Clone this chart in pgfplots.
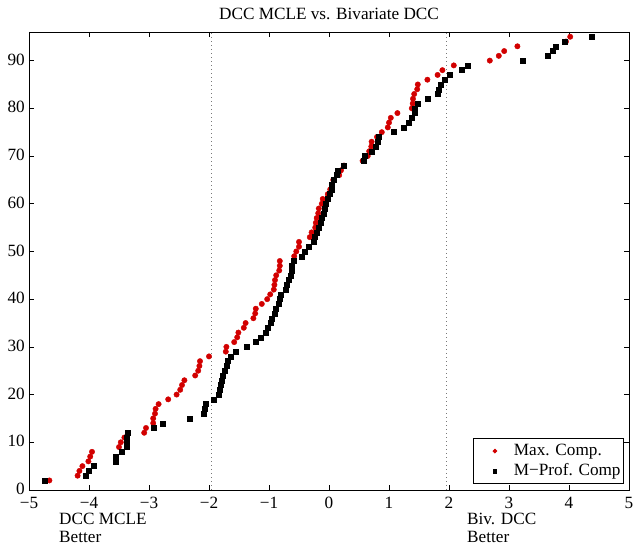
\documentclass[border=0pt]{standalone}
\usepackage{pgfplots}
\pgfplotsset{compat=1.18}
\usepackage{fontspec}
\setmainfont{Liberation Serif}
\definecolor{mred}{RGB}{210,0,0}
\definecolor{dotgray}{RGB}{120,120,120}
\newcommand{\chartfont}{\fontsize{17.2bp}{20bp}\selectfont}

\begin{document}
\chartfont
\begin{tikzpicture}
\begin{axis}[name=ax, scale only axis, width=600bp, height=458bp,
  xmin=-5, xmax=5, ymin=0, ymax=96,
  xtick={-5,-4,-3,-2,-1,0,1,2,3,4,5},
  xticklabels={−5,−4,−3,−2,−1,0,1,2,3,4,5},
  ytick={0,10,20,30,40,50,60,70,80,90},
  /pgf/number format/assume math mode=true,
  tick align=inside, major tick length=5bp,
  tick style={black, line width=0.6bp},
  axis line style={line width=0.8bp},
  ticklabel style={font=\chartfont},
  xticklabel style={inner sep=0pt, yshift=-7bp},
  yticklabel style={inner sep=0pt, xshift=-4bp, yshift=1bp},
  clip=false,
  legend cell align=left,
  legend image code/.code={%
    \path[draw=none, fill=none] (-21bp,0bp) rectangle (17bp,0.5bp);
    \draw[#1, mark size=1.9bp] plot[only marks] coordinates {(0bp,0bp)};},
  legend style={at={(rel axis cs:1,0)}, anchor=south east,
    xshift=-5bp, yshift=6bp, draw=black, line width=0.8bp,
    inner xsep=1bp, inner ysep=2.5bp, font=\chartfont,
    nodes={inner xsep=2bp, inner ysep=2bp, text height=12bp, text depth=4bp}},
]
\draw[dotgray, line width=0.7bp, dash pattern=on 1bp off 3bp] (axis cs:-1.96,0) -- (axis cs:-1.96,96);
\draw[dotgray, line width=0.7bp, dash pattern=on 1bp off 3bp] (axis cs:1.96,0) -- (axis cs:1.96,96);

\addplot[only marks, mark=*, mark size=2.7bp, color=mred, mark options={draw=mred, fill=mred}] coordinates {
(-4.66,2)(-4.19,3)(-4.16,4)(-4.11,5)(-4.01,6)(-3.98,7)(-3.95,8)(-3.50,9)(-3.47,10)
(-3.41,11)(-3.08,12)(-3.05,13)(-2.93,14)(-2.93,15)(-2.90,16)(-2.89,17)(-2.84,18)
(-2.68,19)(-2.54,20)(-2.48,21)(-2.45,22)(-2.41,23)(-2.23,24)(-2.18,25)(-2.16,26)
(-2.15,27)(-2.00,28)(-1.72,29)(-1.71,30)(-1.58,31)(-1.53,32)(-1.51,33)(-1.42,34)
(-1.39,35)(-1.26,36)(-1.23,37)(-1.22,38)(-1.12,39)(-1.03,40)(-0.98,41)(-0.92,42)
(-0.91,43)(-0.90,44)(-0.88,45)(-0.83,46)(-0.82,47)(-0.82,48)(-0.58,49)(-0.545,50)
(-0.50,51)(-0.50,52)(-0.32,53)(-0.29,54)(-0.23,55)(-0.22,56)(-0.205,57)(-0.18,58)
(-0.17,59)(-0.12,60)(-0.105,61)(-0.02,62)(0.02,63)(0.05,64)(0.07,65)(0.17,66)
(0.20,67)(0.25,68)(0.56,69)(0.645,70)(0.67,71)(0.705,72)(0.71,73)(0.80,74)(0.88,75)
(0.98,76)(1.00,77)(1.03,78)(1.14,79)(1.38,80)(1.395,81)(1.40,82)(1.42,83)(1.47,84)
(1.48,85)(1.64,86)(1.81,87)(1.89,88)(2.08,89)(2.68,90)(2.83,91)(2.92,92)(3.14,93)
(3.95,94)(4.02,95)
};
\addlegendentry{Max. Comp.}

\addplot[only marks, mark=square*, mark size=2.5bp, color=black, mark options={draw=black, fill=black}] coordinates {
(-4.73,2)(-4.06,3)(-4.00,4)(-3.92,5)(-3.56,6)(-3.56,7)(-3.45,8)(-3.38,9)(-3.38,10)
(-3.37,11)(-3.355,12)(-2.92,13)(-2.78,14)(-2.33,15)(-2.09,16)(-2.07,17)(-2.06,18)
(-1.93,19)(-1.845,20)(-1.82,21)(-1.80,22)(-1.79,23)(-1.77,24)(-1.745,25)(-1.71,26)
(-1.69,27)(-1.64,28)(-1.55,29)(-1.37,30)(-1.22,31)(-1.145,32)(-1.055,33)(-1.03,34)
(-0.98,35)(-0.96,36)(-0.91,37)(-0.89,38)(-0.845,39)(-0.82,40)(-0.81,41)(-0.72,42)
(-0.70,43)(-0.68,44)(-0.645,45)(-0.63,46)(-0.62,47)(-0.59,48)(-0.455,49)(-0.41,50)
(-0.345,51)(-0.26,52)(-0.245,53)(-0.205,54)(-0.18,55)(-0.14,56)(-0.13,57)(-0.095,58)
(-0.08,59)(-0.055,60)(-0.03,61)(0.005,62)(0.04,63)(0.05,64)(0.08,65)(0.12,66)
(0.15,67)(0.25,68)(0.57,69)(0.60,70)(0.705,71)(0.78,72)(0.805,73)(0.82,74)(1.08,75)
(1.245,76)(1.32,77)(1.37,78)(1.43,79)(1.43,80)(1.48,81)(1.64,82)(1.81,83)(1.82,84)
(1.86,85)(1.92,86)(2.01,87)(2.21,88)(2.31,89)(3.22,90)(3.64,91)(3.72,92)(3.77,93)
(3.93,94)(4.38,95)
};
\addlegendentry{M−Prof. Comp}
\end{axis}
\node[anchor=base, inner sep=0pt] at ([yshift=12bp]ax.north) {DCC MCLE vs. Bivariate DCC};
\node[anchor=base west, inner sep=0pt] at ([xshift=30bp, yshift=-35bp]ax.south west) {DCC MCLE};
\node[anchor=base west, inner sep=0pt] at ([xshift=30bp, yshift=-53bp]ax.south west) {Better};
\node[anchor=base west, inner sep=0pt] at ([xshift=438bp, yshift=-35bp]ax.south west) {Biv. DCC};
\node[anchor=base west, inner sep=0pt] at ([xshift=438bp, yshift=-53bp]ax.south west) {Better};
\pgfresetboundingbox
\path[use as bounding box] ([xshift=-29bp, yshift=-60bp]ax.south west) rectangle ([xshift=10bp, yshift=32bp]ax.north east);
\end{tikzpicture}
\end{document}
